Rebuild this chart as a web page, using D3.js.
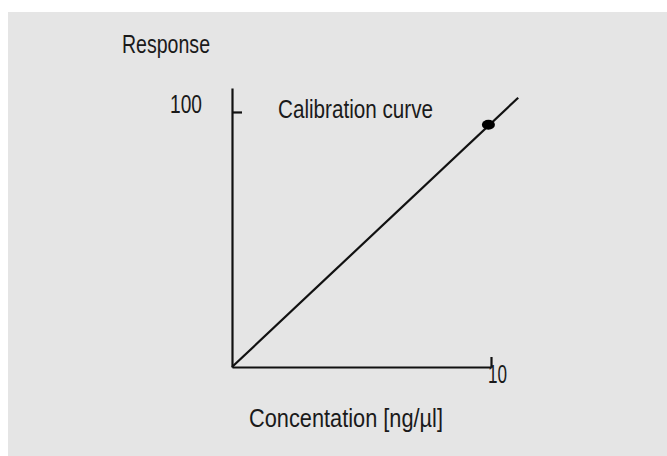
<!DOCTYPE html>
<html>
<head>
<meta charset="utf-8">
<script src="https://cdn.jsdelivr.net/npm/d3@7/dist/d3.min.js"></script>
<style>
  html, body { margin: 0; padding: 0; background: #ffffff; }
  svg { display: block; }
  text { font-family: "Liberation Sans Narrow", "Arial Narrow", "Liberation Sans", sans-serif; fill: #1a1a1a; }
</style>
</head>
<body>
<svg id="chart" width="667" height="456"></svg>
<script>
// Calibration line: response versus concentration
const lineConc = [0, 11.05];
const lineResp = [0, 105.6];

// Calibration point
const pointConc = [9.9];
const pointResp = [95];

// Axis extents and tick labels
const xDomain = [0, 10];
const yDomain = [0, 109.4];
const xTicks = [10];
const yTicks = [100];

const xTitle = "Concentation [ng/µl]";
const yTitle = "Response";
const curveLabel = "Calibration curve";

const svg = d3.select("#chart");
const fontStack = '"Liberation Sans Narrow", "Arial Narrow", "Liberation Sans", sans-serif';

// panel background
svg.append("rect")
  .attr("x", 8).attr("y", 12)
  .attr("width", 659).attr("height", 444)
  .attr("fill", "#e5e5e5");

const x = d3.scaleLinear().domain(xDomain).range([232, 491]);
const y = d3.scaleLinear().domain(yDomain).range([367, 88]);

// y axis: tick points inward, label on the left
const yAxis = svg.append("g")
  .attr("transform", `translate(${x(0)},0)`)
  .call(d3.axisLeft(y).tickValues(yTicks).tickSize(-10).tickSizeOuter(0).tickFormat(d3.format("d")));

// x axis: tick points upward
const xAxis = svg.append("g")
  .attr("transform", `translate(0,${y(0)})`)
  .call(d3.axisBottom(x).tickValues(xTicks).tickSize(-10).tickSizeOuter(0).tickFormat(d3.format("d")));

[yAxis, xAxis].forEach(g => {
  g.select(".domain").attr("stroke", "#111").attr("stroke-width", 2.2);
  g.selectAll(".tick line").attr("stroke", "#111").attr("stroke-width", 2.2);
  g.selectAll(".tick text")
    .attr("fill", "#1a1a1a")
    .style("font-family", fontStack)
    .style("font-size", "25px");
});

// condensed look for the lettering
yAxis.selectAll(".tick text")
  .attr("x", -30).attr("dy", "0.04em").attr("text-anchor", "end")
  .attr("textLength", 32).attr("lengthAdjust", "spacingAndGlyphs");
xAxis.selectAll(".tick text")
  .attr("x", 6).attr("y", 0).attr("dy", "0.64em").attr("text-anchor", "middle")
  .attr("textLength", 19).attr("lengthAdjust", "spacingAndGlyphs");

// calibration line
const lineData = lineConc.map((c, i) => [c, lineResp[i]]);
svg.append("path")
  .datum(lineData)
  .attr("fill", "none")
  .attr("stroke", "#111")
  .attr("stroke-width", 2.2)
  .attr("d", d3.line().x(d => x(d[0])).y(d => y(d[1])));

// calibration point
svg.selectAll("ellipse.pt")
  .data(pointConc.map((c, i) => [c, pointResp[i]]))
  .join("ellipse")
  .attr("class", "pt")
  .attr("cx", d => x(d[0]))
  .attr("cy", d => y(d[1]))
  .attr("rx", 6.5).attr("ry", 5)
  .attr("fill", "#000");

// titles
function label(tx, ty, len, str) {
  svg.append("text")
    .attr("x", tx).attr("y", ty)
    .attr("textLength", len).attr("lengthAdjust", "spacingAndGlyphs")
    .style("font-size", "25px")
    .text(str);
}
label(122, 53, 88, yTitle);
label(278, 118, 155, curveLabel);
label(249, 427, 194, xTitle);
</script>
</body>
</html>
